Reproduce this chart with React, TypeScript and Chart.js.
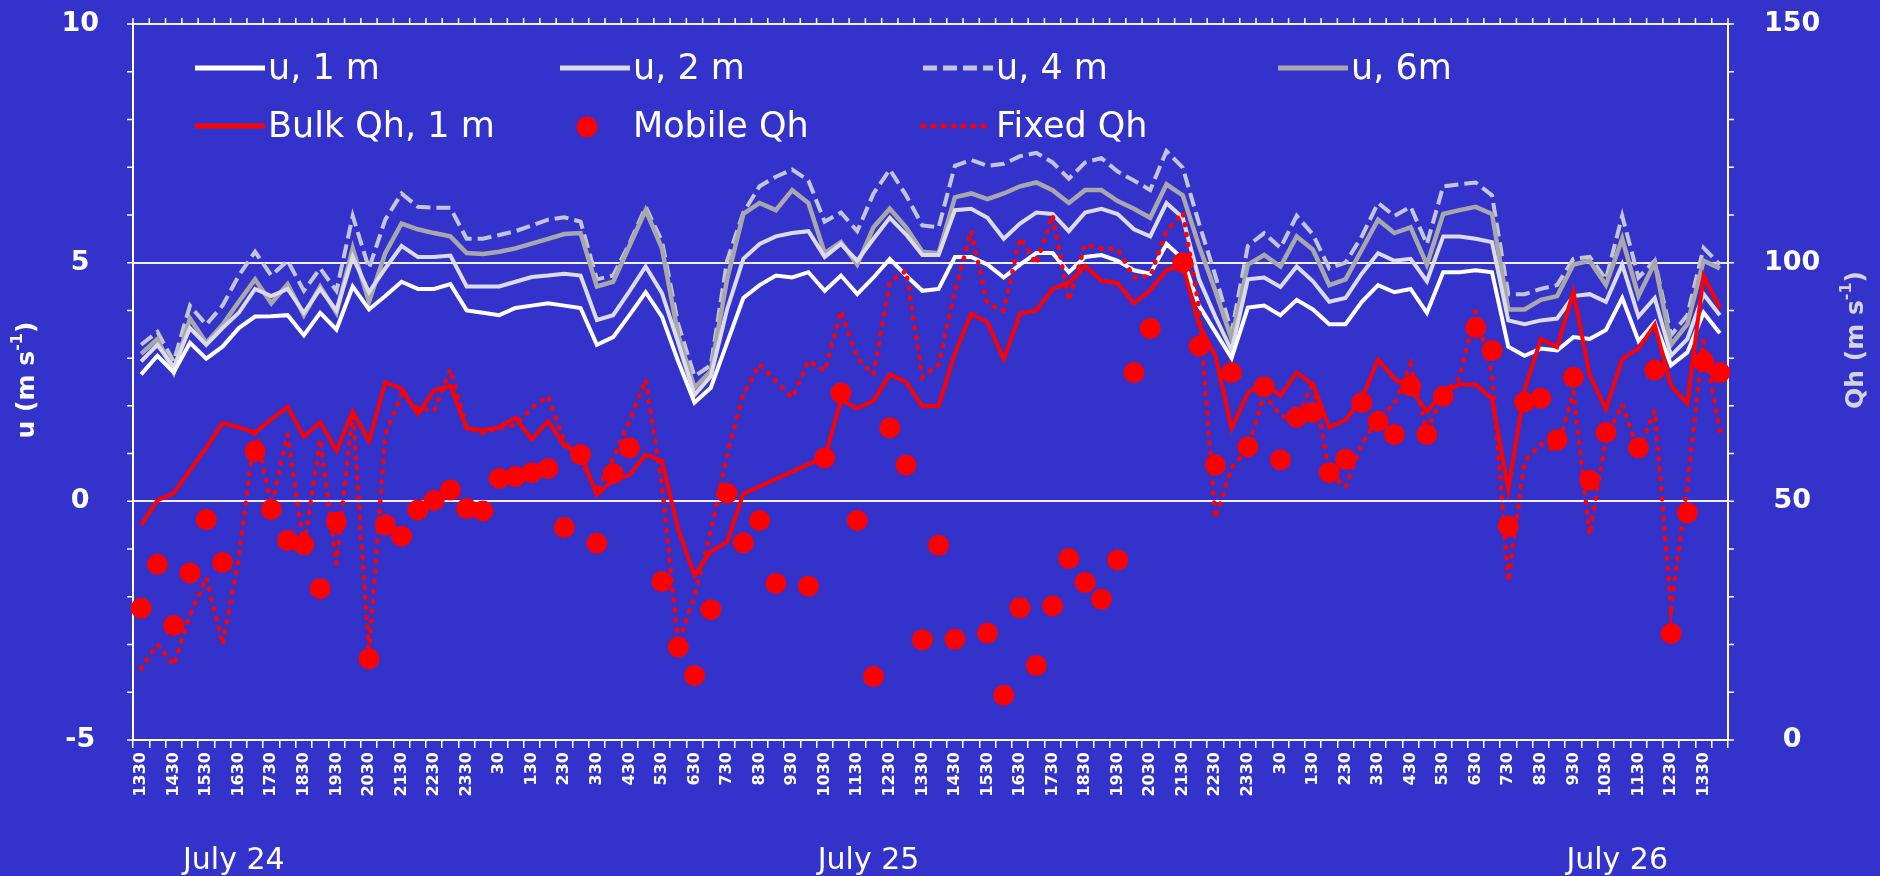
import React, { useEffect, useRef } from 'react';
import { Chart, registerables } from 'chart.js';

Chart.register(...registerables);

// ---- category (time) labels, 30-min steps, 13:30 July 24 -> 14:00 July 26 ----
const timeLabels = [
  '1330','1400','1430','1500','1530','1600','1630','1700','1730','1800',
  '1830','1900','1930','2000','2030','2100','2130','2200','2230','2300',
  '2330','0','30','100','130','200','230','300','330','400',
  '430','500','530','600','630','700','730','800','830','900',
  '930','1000','1030','1100','1130','1200','1230','1300','1330','1400',
  '1430','1500','1530','1600','1630','1700','1730','1800','1830','1900',
  '1930','2000','2030','2100','2130','2200','2230','2300','2330','0',
  '30','100','130','200','230','300','330','400','430','500',
  '530','600','630','700','730','800','830','900','930','1000',
  '1030','1100','1130','1200','1230','1300','1330','1400',
];

const dateLabels = ['July 24', 'July 25', 'July 26'];
const dateAnchorIndex = [6, 45, 91];

const leftTitle = ['u (m s', '-1', ')'];
const rightTitle = ['Qh (m s', '-1', ')'];

// ---- wind speed u (m/s), left axis ----
const u1m = [
  2.66,3.05,2.7,3.32,2.99,3.24,3.63,3.87,3.88,3.9,
  3.48,3.95,3.6,4.5,4.02,4.3,4.6,4.45,4.45,4.55,
  4.0,3.95,3.9,4.05,4.1,4.15,4.1,4.05,3.28,3.44,
  3.9,4.38,3.87,2.93,2.07,2.38,3.32,4.26,4.53,4.73,
  4.69,4.8,4.41,4.73,4.34,4.69,5.08,4.73,4.41,4.45,
  5.12,5.12,4.96,4.69,4.96,5.2,5.2,4.8,5.12,5.16,
  5.04,4.84,4.77,5.39,5.08,4.1,3.55,3.0,4.06,4.1,
  3.9,4.22,4.02,3.71,3.71,4.18,4.53,4.38,4.45,3.95,
  4.8,4.8,4.84,4.8,3.24,3.05,3.2,3.16,3.44,3.4,
  3.59,4.26,3.36,3.75,2.85,3.12,3.95,3.52,
];
const u2m = [
  2.93,3.28,2.81,3.63,3.28,3.63,3.95,4.45,4.3,4.45,
  3.95,4.45,4.0,5.12,4.38,4.88,5.35,5.12,5.12,5.15,
  4.5,4.5,4.5,4.6,4.7,4.73,4.77,4.73,3.8,3.9,
  4.4,4.92,4.36,3.32,2.23,2.62,4.02,5.08,5.39,5.55,
  5.62,5.66,5.12,5.39,5.04,5.5,5.94,5.59,5.16,5.16,
  6.1,6.13,5.94,5.5,5.82,6.05,6.02,5.66,6.05,6.13,
  6.02,5.7,5.55,6.25,5.94,4.65,3.87,3.16,4.65,4.69,
  4.49,4.92,4.61,4.18,4.26,4.77,5.2,5.04,5.08,4.61,
  5.55,5.55,5.5,5.43,3.79,3.71,3.79,3.83,4.3,4.34,
  4.18,4.96,3.87,4.26,3.05,3.4,4.34,3.9,
];
const u4m = [
  3.28,3.55,2.93,4.1,3.7,4.1,4.73,5.23,4.73,5.04,
  4.41,4.88,4.41,5.98,4.88,5.9,6.45,6.17,6.15,6.15,
  5.5,5.5,5.58,5.66,5.78,5.9,5.95,5.86,4.65,4.73,
  5.4,6.17,5.45,3.71,2.62,2.85,5.04,6.05,6.6,6.8,
  6.95,6.72,5.86,6.05,5.66,6.45,6.95,6.41,5.78,5.74,
  7.03,7.15,7.03,7.07,7.23,7.3,7.1,6.76,7.1,7.19,
  6.91,6.72,6.52,7.34,6.99,5.82,4.73,3.55,5.35,5.62,
  5.31,5.98,5.59,4.88,5.0,5.55,6.25,5.98,6.17,5.39,
  6.6,6.64,6.68,6.41,4.34,4.34,4.45,4.53,5.08,5.12,
  4.65,5.98,4.69,5.04,3.48,3.9,5.31,4.96,
];
const u6m = [
  3.09,3.4,2.7,3.83,3.32,3.7,4.18,4.65,4.15,4.55,
  3.9,4.5,3.95,5.3,4.18,5.2,5.82,5.7,5.62,5.55,
  5.2,5.18,5.23,5.3,5.4,5.5,5.6,5.62,4.5,4.6,
  5.35,6.1,5.3,3.48,2.38,2.73,4.65,6.02,6.25,6.1,
  6.52,6.25,5.2,5.43,4.96,5.74,6.13,5.74,5.23,5.2,
  6.37,6.45,6.33,6.45,6.6,6.68,6.52,6.25,6.52,6.52,
  6.29,6.13,5.94,6.64,6.41,5.35,4.41,3.4,4.96,5.16,
  4.92,5.55,5.27,4.53,4.65,5.27,5.9,5.62,5.74,4.96,
  6.02,6.1,6.17,6.02,4.02,4.02,4.22,4.3,4.96,5.04,
  4.53,5.5,4.3,5.0,3.28,3.71,5.04,4.88,
];

// ---- heat flux Qh, right axis ----
const bulkQh = [
  45,50.2,51.7,56.5,61.2,66.4,65.5,64.4,67.2,69.8,
  63.5,66.6,60.6,68.8,62.6,74.9,73.6,68.3,73.2,74.2,
  65.3,64.9,65.5,67.5,63,66.8,61.7,60,51.3,54.5,
  55.5,59.8,58.5,44.1,34.5,39.5,41.5,51.6,53.1,54.7,
  56.2,57.8,59.2,71.2,69.5,71.1,76.6,75,69.9,70,
  81,89.3,87.5,79.8,89.3,90,94.5,95.8,99.3,96.2,
  95.7,91.5,94.2,98.4,99.5,87,80.5,65.3,72.7,75.1,
  72.1,77,74.5,65.5,67,71.5,79.7,75.7,73.6,68.8,
  72.8,74.5,74.5,71.5,52.5,73.4,84,82.3,93.9,76.5,
  69.3,79.8,82,87,74.2,70.5,97.2,90.5,
];
const fixedQh = [
  15,20,15.7,26.2,34,20,38,65.4,49,64,
  40.2,63,37,69,18,64,72.4,69.5,69,77.6,
  65.4,64.3,65.4,66,69.6,72,62.6,58.4,52,59,
  66.8,75.5,53.5,20,30.4,43.7,59.8,72.4,78.7,75.2,
  71.7,79.4,77.3,89.9,80,76.6,96,98.3,76,78.7,
  94,106.6,91.3,90,105.2,99.7,110,92,103.8,103,
  102.8,96.9,97.2,106.6,110.5,90.5,46.5,57,61,72.4,
  68,67,75,56,53,62,67.5,70.3,78.7,64.7,
  72.4,75.9,89.9,76.6,33.2,58.4,62,60.5,73,43,
  63.3,70.3,60.5,69,27.6,53.5,83.6,64.7,
];
const mobileQh = [
  27.6,36.8,24,35,46.2,37.2,null,60.5,48.3,41.8,
  40.9,31.7,45.6,null,17,45.1,42.7,48.2,50.2,52.4,
  48.5,48,54.8,55.2,56,56.9,44.5,59.8,41.2,55.8,
  61.2,null,33.2,19.5,13.5,27.3,51.7,41.3,46,32.8,
  null,32.2,59.1,72.7,46,13.3,65.4,57.6,21,40.8,
  21.1,null,22.4,9.4,27.7,15.6,28.1,38,33,29.5,
  37.7,77,86.2,null,100,82.5,57.6,77,61.4,74,
  58.7,67.6,68.6,56,58.8,70.7,66.8,64,74.2,64,
  72,null,86.4,81.6,44.8,70.8,71.6,62.9,76,54.4,
  64.4,null,61.2,77.5,22.3,47.6,79.3,77,
];

const BG = '#3333CC';
const WHITE = '#FFFFFF';
const FONT = '"DejaVu Sans", sans-serif';

function drawRotatedTitle(ctx: CanvasRenderingContext2D, cx: number, cy: number, parts: string[], color: string, size: number) {
  ctx.save();
  ctx.translate(cx, cy);
  ctx.rotate(-Math.PI / 2);
  ctx.fillStyle = color;
  ctx.textBaseline = 'middle';
  ctx.textAlign = 'left';
  const normal = `bold ${size}px ${FONT}`;
  const sup = `bold ${Math.round(size * 0.62)}px ${FONT}`;
  const widths = parts.map((p, i) => {
    ctx.font = i === 1 ? sup : normal;
    return ctx.measureText(p).width;
  });
  const total = widths.reduce((a, b) => a + b, 0);
  let x = -total / 2;
  parts.forEach((p, i) => {
    ctx.font = i === 1 ? sup : normal;
    ctx.fillText(p, x, i === 1 ? -size * 0.35 : 0);
    x += widths[i];
  });
  ctx.restore();
}

const decorPlugin = {
  id: 'decor',
  afterDraw(chart: any) {
    const { ctx, chartArea: ca, scales } = chart;
    const xs = scales.x, ys = scales.y, y1s = scales.y1;
    ctx.save();
    ctx.strokeStyle = WHITE;
    ctx.lineWidth = 1.5;
    ctx.beginPath();
    for (let v = -5; v <= 10; v += 1) {
      const py = ys.getPixelForValue(v);
      ctx.moveTo(ca.left - 6, py);
      ctx.lineTo(ca.left, py);
    }
    for (let v = 0; v <= 150; v += 10) {
      const py = y1s.getPixelForValue(v);
      ctx.moveTo(ca.right, py);
      ctx.lineTo(ca.right + 6, py);
    }
    const n = timeLabels.length;
    for (let i = 0; i <= n; i++) {
      const px = xs.getPixelForValue(i - 0.5);
      ctx.moveTo(px, ca.top);
      ctx.lineTo(px, ca.top - 6);
    }
    ctx.stroke();

    // axis titles
    drawRotatedTitle(ctx, 27, (ca.top + ca.bottom) / 2 - 2, leftTitle, WHITE, 25);
    drawRotatedTitle(ctx, 1856, 340, rightTitle, '#D4D4DC', 25);

    // date labels
    ctx.fillStyle = WHITE;
    ctx.font = `30px ${FONT}`;
    ctx.textAlign = 'center';
    ctx.textBaseline = 'alphabetic';
    dateLabels.forEach((t, k) => {
      const px = xs.getPixelForValue(dateAnchorIndex[k]);
      ctx.fillText(t, px - 5, 869);
    });

    // legend
    const cols = [195, 560, 923, 1278];
    const rows = [70, 128];
    const slots = [[0, 1, 2, 3], [4, 5, 6]];
    ctx.font = `35px ${FONT}`;
    ctx.textAlign = 'left';
    ctx.textBaseline = 'middle';
    slots.forEach((row, r) => {
      row.forEach((dsIndex, c) => {
        const ds = chart.data.datasets[dsIndex];
        const x0 = cols[c];
        const yy = rows[r];
        if (ds.showLine === false) {
          ctx.fillStyle = ds.pointBackgroundColor;
          ctx.beginPath();
          ctx.arc(x0 + 27, yy - 1, 10.5, 0, Math.PI * 2);
          ctx.fill();
        } else {
          ctx.save();
          ctx.strokeStyle = ds.borderColor;
          ctx.lineWidth = 5;
          ctx.setLineDash(ds.borderDash || []);
          ctx.lineCap = ds.borderCapStyle || 'butt';
          ctx.beginPath();
          ctx.moveTo(x0, yy - 2);
          ctx.lineTo(x0 + 70, yy - 2);
          ctx.stroke();
          ctx.restore();
        }
        ctx.fillStyle = WHITE;
        ctx.fillText(ds.label, x0 + 73, yy);
      });
    });
    ctx.restore();
  },
};

export default function App() {
  const ref = useRef<HTMLCanvasElement | null>(null);

  useEffect(() => {
    if (!ref.current) return;
    const chart = new Chart(ref.current, {
      type: 'line',
      data: {
        labels: timeLabels,
        datasets: [
          { label: 'u, 1 m', data: u1m, yAxisID: 'y', borderColor: '#FFFFFF', borderWidth: 4, pointRadius: 0, tension: 0, order: 3 },
          { label: 'u, 2 m', data: u2m, yAxisID: 'y', borderColor: '#DCDCE8', borderWidth: 4, pointRadius: 0, tension: 0, order: 4 },
          { label: 'u, 4 m', data: u4m, yAxisID: 'y', borderColor: '#C4C6D8', borderWidth: 4, borderDash: [14, 6], pointRadius: 0, tension: 0, order: 6 },
          { label: 'u, 6m', data: u6m, yAxisID: 'y', borderColor: '#A8A8AC', borderWidth: 4.5, pointRadius: 0, tension: 0, order: 5 },
          { label: 'Bulk Qh, 1 m', data: bulkQh, yAxisID: 'y1', borderColor: '#FF0000', borderWidth: 4, pointRadius: 0, tension: 0, order: 2 },
          { label: 'Mobile Qh', data: mobileQh, yAxisID: 'y1', showLine: false, borderColor: '#FF0000', pointRadius: 10.5, pointBackgroundColor: '#FF0000', pointBorderWidth: 0, order: 0 },
          { label: 'Fixed Qh', data: fixedQh, yAxisID: 'y1', borderColor: '#FF0000', borderWidth: 4.5, borderDash: [1, 9], borderCapStyle: 'round', pointRadius: 0, tension: 0, order: 1 },
        ] as any,
      },
      options: {
        responsive: false,
        animation: false,
        devicePixelRatio: 1,
        layout: { padding: { top: 24, left: 0, right: 0, bottom: 0 } },
        plugins: { legend: { display: false }, tooltip: { enabled: false } },
        scales: {
          x: {
            type: 'category',
            offset: true,
            grid: { offset: true, drawOnChartArea: false, drawTicks: true, tickLength: 8, color: WHITE, lineWidth: 1.5 },
            border: { display: true, color: WHITE, width: 2 },
            ticks: {
              autoSkip: false,
              maxRotation: 90,
              minRotation: 90,
              color: WHITE,
              padding: 4,
              font: { family: FONT, size: 16, weight: 'bold' },
              callback: function (this: any, val: any, index: number) {
                return index % 2 === 0 ? this.getLabelForValue(val) : '';
              },
            },
            afterFit: (s: any) => { s.height = 136; },
          },
          y: {
            position: 'left',
            min: -5,
            max: 10,
            ticks: { stepSize: 5, color: WHITE, crossAlign: 'center', padding: 0, font: { family: FONT, size: 27, weight: 'bold' } },
            grid: { color: '#F0F0F8', lineWidth: 2, drawTicks: true, tickLength: 34, tickColor: 'rgba(0,0,0,0)' },
            border: { display: true, color: WHITE, width: 2 },
            afterFit: (s: any) => { s.width = 133; },
          },
          y1: {
            position: 'right',
            min: 0,
            max: 150,
            ticks: { stepSize: 50, color: WHITE, crossAlign: 'center', padding: 0, font: { family: FONT, size: 27, weight: 'bold' } },
            grid: { drawOnChartArea: false, drawTicks: true, tickLength: 36, tickColor: 'rgba(0,0,0,0)' },
            border: { display: true, color: WHITE, width: 2 },
            afterFit: (s: any) => { s.width = 152; },
          },
        },
      } as any,
      plugins: [decorPlugin],
    });
    return () => chart.destroy();
  }, []);

  return (
    <div style={{ position: 'fixed', left: 0, top: 0, width: 1880, height: 876, background: BG, overflow: 'hidden' }}>
      <canvas ref={ref} width={1880} height={876} style={{ display: 'block', width: 1880, height: 876 }} />
    </div>
  );
}
